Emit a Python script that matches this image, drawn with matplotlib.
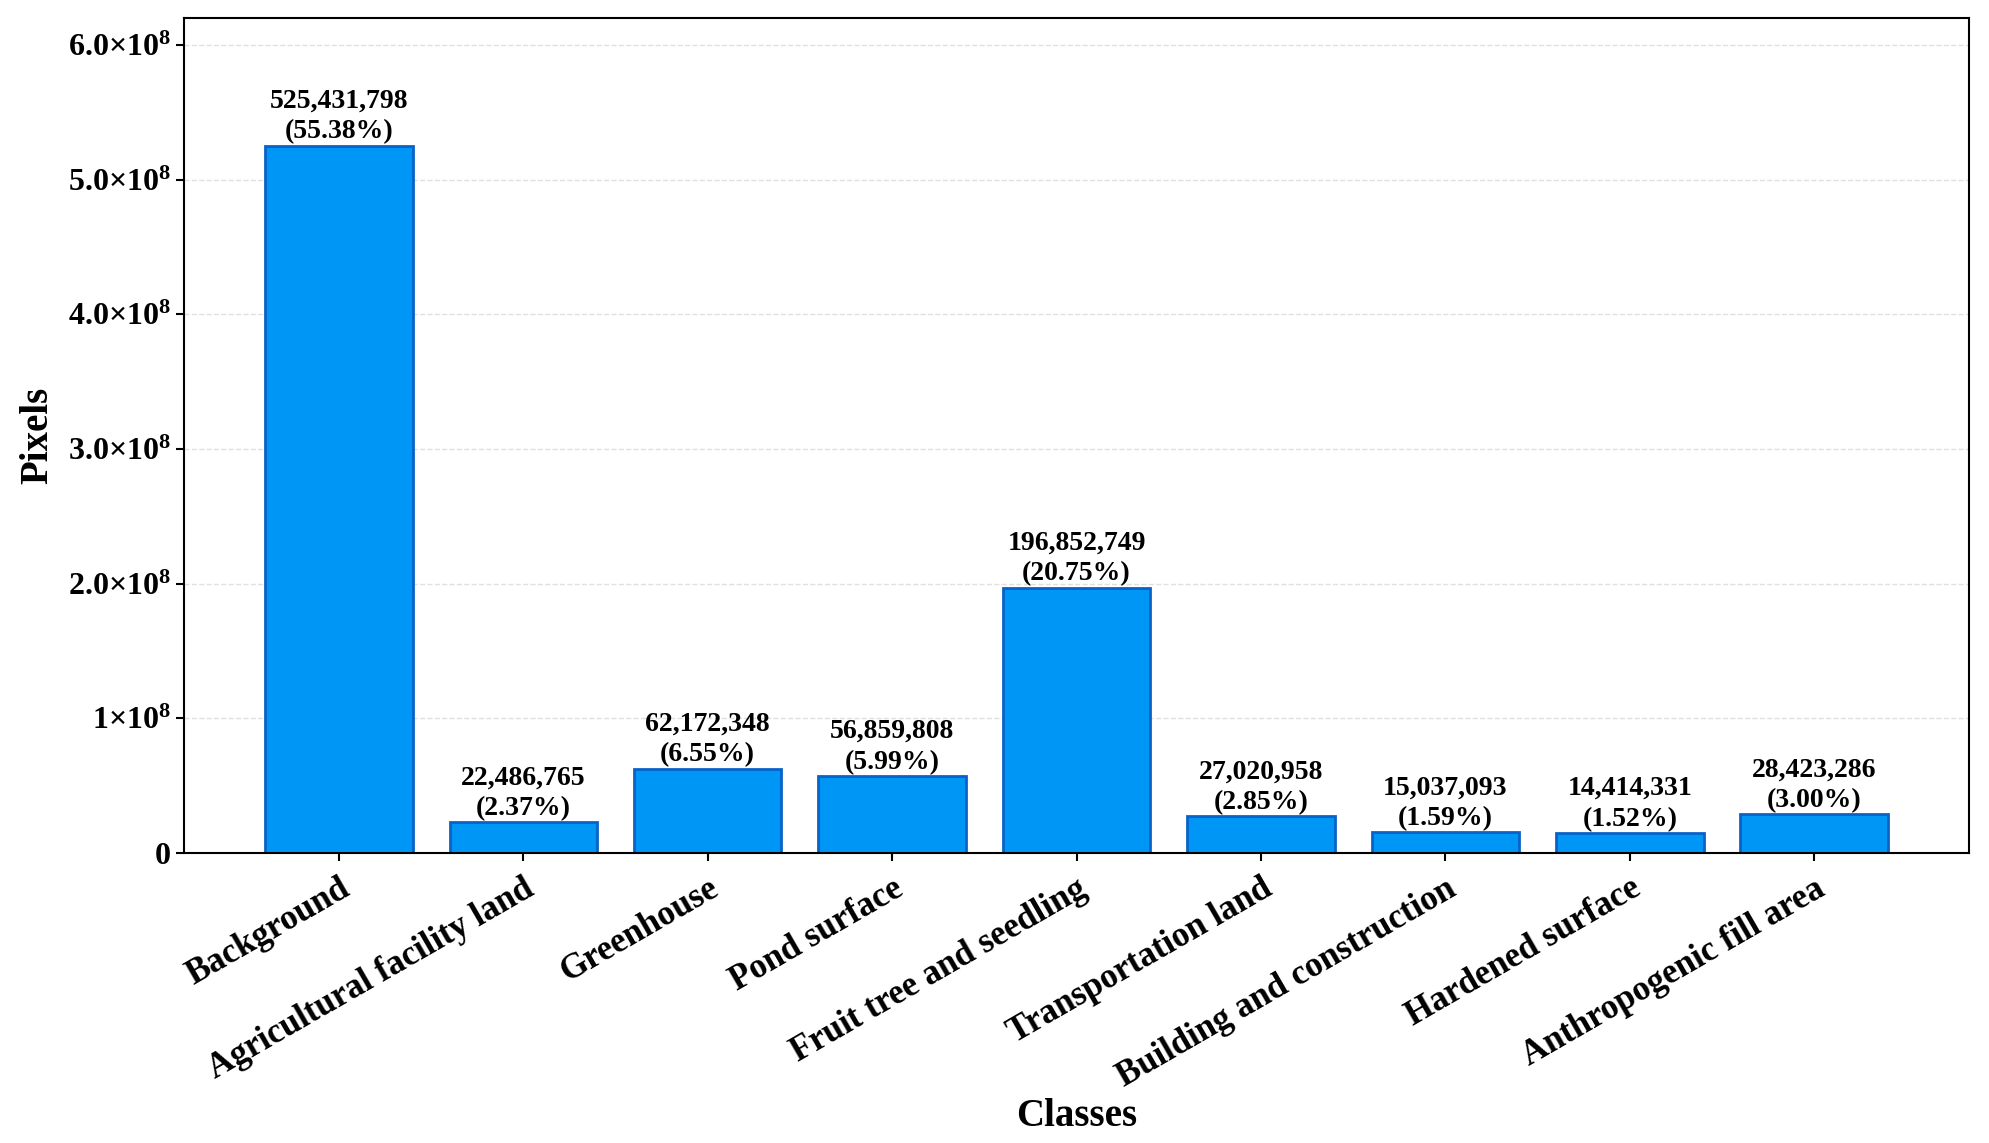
import matplotlib
matplotlib.use('Agg')
import matplotlib.pyplot as plt
import numpy as np

classes = ['Background', 'Agricultural facility land', 'Greenhouse', 'Pond surface',
           'Fruit tree and seedling', 'Transportation land', 'Building and construction',
           'Hardened surface', 'Anthropogenic fill area']
pixels = [525431798, 22486765, 62172348, 56859808, 196852749,
          27020958, 15037093, 14414331, 28423286]
ytick_values = [0, 1e8, 2e8, 3e8, 4e8, 5e8, 6e8]
ytick_labels = ['0', r'$1{\times}10^{8}$', r'$2.0{\times}10^{8}$', r'$3.0{\times}10^{8}$',
                r'$4.0{\times}10^{8}$', r'$5.0{\times}10^{8}$', r'$6.0{\times}10^{8}$']

plt.rcParams['font.family'] = ['Liberation Serif', 'DejaVu Serif']
plt.rcParams['font.weight'] = 'bold'
plt.rcParams['mathtext.fontset'] = 'custom'
plt.rcParams['mathtext.rm'] = 'Liberation Serif:bold'
plt.rcParams['mathtext.it'] = 'Liberation Serif:bold'
plt.rcParams['mathtext.bf'] = 'Liberation Serif:bold'

total = sum(pixels)
x = np.arange(len(classes))

fig = plt.figure(figsize=(19.89, 11.43), dpi=100)
ax = fig.add_axes([0.0925, 0.254, 0.8975, 0.730])

ax.yaxis.grid(True, linestyle='--', color='#e0e0e0', linewidth=1.0)
ax.set_axisbelow(True)

bars = ax.bar(x, pixels, width=0.8, color='#0096F5', edgecolor='#0A62C6', linewidth=2.0)

for xi, val in zip(x, pixels):
    ax.annotate(f'{val:,}\n({val / total * 100:.2f}%)', (xi, val),
                xytext=(0, 1), textcoords='offset points',
                ha='center', va='bottom', fontsize=20, fontweight='bold',
                linespacing=1.3)

ax.set_ylim(0, max(pixels) * 1.18)
ax.set_yticks(ytick_values)
ax.set_yticklabels(ytick_labels, fontsize=23)
ax.set_xticks(x)
ax.set_xticklabels(classes, rotation=30, ha='right', rotation_mode='anchor', fontsize=25)

ax.tick_params(axis='both', direction='out', length=6, width=1.5)
ax.tick_params(axis='x', pad=8)
for spine in ax.spines.values():
    spine.set_linewidth(1.5)

ax.set_xlabel('Classes', fontsize=28, fontweight='bold')
ax.set_ylabel('Pixels', fontsize=28, fontweight='bold')
ax.xaxis.set_label_coords(0.5, -0.294)
ax.yaxis.set_label_coords(-0.0715, 0.5)

plt.savefig('out.png', dpi=100)
plt.close('all')
